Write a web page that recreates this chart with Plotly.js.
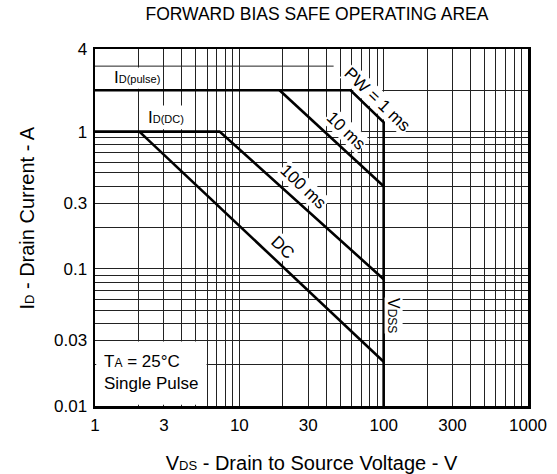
<!DOCTYPE html>
<html>
<head>
<meta charset="utf-8">
<script src="https://cdn.plot.ly/plotly-3.0.1.min.js"></script>
<style>html,body{margin:0;padding:0;background:#fff;}#chart{width:557px;height:474px;}</style>
</head>
<body>
<div id="chart"></div>
<script>
// ---- data ----
const xTickVals = [1, 3, 10, 30, 100, 300, 1000];
const xTickText = ['1', '3', '10', '30', '100', '300', '1000'];
const yTickVals = [0.01, 0.03, 0.1, 0.3, 1, 4];
const yTickText = ['0.01', '0.03', '0.1', '0.3', '1', '4'];
const xMinorGrid = [2, 4, 5, 6, 7, 8, 9, 20, 40, 50, 60, 70, 80, 90, 200, 400, 500, 600, 700, 800, 900];
const yMinorGrid = [0.02, 0.04, 0.05, 0.06, 0.07, 0.08, 0.09, 0.2, 0.4, 0.5, 0.6, 0.7, 0.8, 0.9, 2];

// ID(pulse) limit -> PW = 1 ms -> VDSS
const pulseV = [1, 59, 100, 100];
const pulseI = [2, 2, 1.17, 0.01];
// 10 ms
const ms10V = [19, 100];
const ms10I = [2, 0.4];
// ID(DC) limit -> 100 ms
const ms100V = [1, 7.3, 100];
const ms100I = [1, 1, 0.084];
// DC
const dcV = [2.03, 100];
const dcI = [1, 0.021];

const FONT = 'Liberation Sans, Arial, Helvetica, sans-serif';
const lineStyle = {color: '#000', width: 2.6};
const L = Math.log10;

const traces = [
  {x: pulseV, y: pulseI, mode: 'lines', line: lineStyle, hoverinfo: 'skip'},
  {x: ms10V, y: ms10I, mode: 'lines', line: lineStyle, hoverinfo: 'skip'},
  {x: ms100V, y: ms100I, mode: 'lines', line: lineStyle, hoverinfo: 'skip'},
  {x: dcV, y: dcI, mode: 'lines', line: lineStyle, hoverinfo: 'skip'}
];

const mask = (x0, x1, y0, y1) => ({type: 'rect', xref: 'x', yref: 'y', x0, x1, y0, y1,
  fillcolor: '#fff', line: {width: 0}, layer: 'between'});

const ann = (text, x, y, angle, extra) => Object.assign({
  text, x: L(x), y: L(y), xref: 'x', yref: 'y', showarrow: false, textangle: angle,
  font: {family: FONT, size: 17, color: '#000'}, bgcolor: '#fff', borderpad: 0
}, extra || {});

const layout = {
  width: 557, height: 474,
  margin: {l: 95, r: 29, t: 49, b: 68},
  paper_bgcolor: '#fff', plot_bgcolor: '#fff',
  showlegend: false,
  font: {family: FONT, size: 17, color: '#000'},
  title: {text: 'FORWARD BIAS SAFE OPERATING AREA', font: {family: FONT, size: 17.5, color: '#000'},
          x: 0.569, xref: 'container', xanchor: 'center', y: 0.970, yref: 'container', yanchor: 'middle'},
  xaxis: {
    type: 'log', range: [0, 3], tickmode: 'array', tickvals: xTickVals, ticktext: xTickText,
    ticks: '', showline: true, mirror: true, linecolor: '#000', linewidth: 2.5,
    showgrid: true, gridcolor: '#222', gridwidth: 1, zeroline: false, ticklabelstandoff: 2,
    tickfont: {family: FONT, size: 17, color: '#000'},
    minor: {tickmode: 'array', tickvals: xMinorGrid, showgrid: true, gridcolor: '#222', gridwidth: 1, ticks: ''},
    title: {text: 'V<span style="font-size:13px">DS</span> - Drain to Source Voltage - V',
            font: {family: FONT, size: 20, color: '#000'}, standoff: 22}
  },
  yaxis: {
    type: 'log', range: [-2, L(4)], tickmode: 'array', tickvals: yTickVals, ticktext: yTickText,
    ticks: '', showline: true, mirror: true, linecolor: '#000', linewidth: 2.5,
    showgrid: true, gridcolor: '#222', gridwidth: 1, zeroline: false, ticklabelstandoff: 2,
    tickfont: {family: FONT, size: 17, color: '#000'},
    minor: {tickmode: 'array', tickvals: yMinorGrid, showgrid: true, gridcolor: '#222', gridwidth: 1, ticks: ''}
  },
  shapes: [
    {type: 'line', xref: 'x', yref: 'y', x0: 1, x1: 45, y0: 3, y1: 3, line: {color: '#222', width: 1}, layer: 'between'},
    mask(1.02, 2.8, 2.05, 2.93),
    mask(2.15, 4.3, 1.04, 1.55),
    mask(1.02, 5.93, 0.0102, 0.0295)
  ],
  annotations: [
    {text: 'I<span style="font-size:13px">D</span> - Drain Current - A', xref: 'paper', yref: 'paper',
     x: -0.157, y: 0.525, xanchor: 'center', yanchor: 'middle', showarrow: false, textangle: -90,
     font: {family: FONT, size: 20, color: '#000'}},
    ann('I<span style="font-size:11px">D(pulse)</span>', 1.95, 2.46, 0, {bgcolor: 'rgba(0,0,0,0)'}),
    ann('I<span style="font-size:11px">D(DC)</span>', 3.1, 1.26, 0, {bgcolor: 'rgba(0,0,0,0)'}),
    ann('PW = 1 ms', 90, 1.70, 43.6),
    ann('10 ms', 54.5, 1.02, 43.6),
    ann('100 ms', 27.5, 0.395, 43.6),
    ann('DC', 19.9, 0.142, 43.6),
    ann('V<span style="font-size:12px">DSS</span>', 118, 0.046, 90, {font: {family: FONT, size: 16, color: '#000'}}),
    ann('T<span style="font-size:12px">A</span> = 25°C<br>Single Pulse', 1.14, 0.0175, 0,
        {xanchor: 'left', align: 'left', bgcolor: 'rgba(0,0,0,0)'})
  ]
};

Plotly.newPlot('chart', traces, layout, {displayModeBar: false, staticPlot: true});
</script>
</body>
</html>
